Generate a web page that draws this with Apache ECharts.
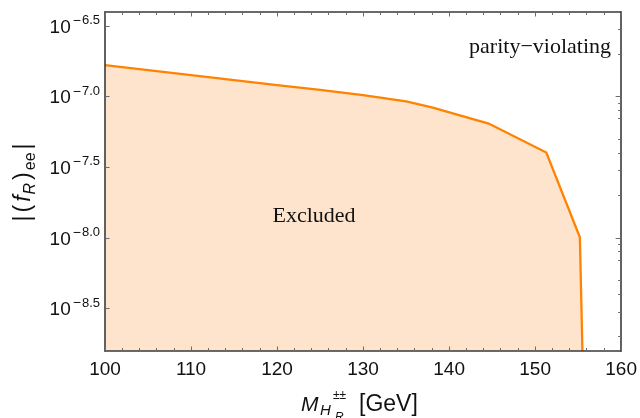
<!DOCTYPE html>
<html>
<head>
<meta charset="utf-8">
<script src="https://cdn.jsdelivr.net/npm/echarts@6/dist/echarts.min.js"></script>
<style>
  html, body { margin: 0; padding: 0; background: #fff; }
  #chart { width: 640px; height: 418px; }
</style>
</head>
<body>
<div id="chart"></div>
<script>
// Exclusion boundary: doubly-charged Higgs mass vs log10 of the coupling |(f_R)_ee|
const massGeV = [100, 105, 110, 115, 120, 125, 130, 135, 138, 144.6, 151.3, 155.2, 155.5];
const logCoupling = [-6.776, -6.812, -6.847, -6.882, -6.918, -6.952, -6.988, -7.032, -7.075, -7.19, -7.395, -7.995, -8.8];

// Axis ranges and tick positions (log10 units on y)
const xMin = 100, xMax = 160, xStep = 10;
const yMin = -8.8, yMax = -6.4;
const yLabelExps = [-8.5, -8.0, -7.5, -7.0, -6.5];
const decadeExps = [-8, -7];
const minorMantissas = [2, 3, 4, 5, 7, 8, 9];

const minorLogTicks = [];
[-9, -8, -7].forEach(d => {
  minorMantissas.forEach(m => {
    const v = d + Math.log10(m);
    if (v > yMin && v < yMax) minorLogTicks.push(v);
  });
});

const seriesData = massGeV.map((m, i) => [m, logCoupling[i]]);

const frameColor = '#3a3a3a';
const tickColor = '#6a6a6a';
const lineColor = '#ff8200';
const fillColor = '#fee4cc';
const sans = 'Liberation Sans, Arial, sans-serif';
const serif = 'Liberation Serif, Times New Roman, serif';

const chart = echarts.init(document.getElementById('chart'), null, { renderer: 'canvas' });

function frameX(pos, labels) {
  return {
    type: 'value', position: pos, min: xMin, max: xMax, interval: xStep, z: 5,
    axisLine: { show: true, onZero: false, lineStyle: { color: frameColor, width: 1.6 } },
    axisTick: { show: true, inside: true, length: 4.5, lineStyle: { color: tickColor, width: 1 } },
    minorTick: { show: true, splitNumber: 5, length: 3, lineStyle: { color: tickColor, width: 1 } },
    axisLabel: labels ? { show: true, margin: 9, color: '#111', fontSize: 19, fontFamily: sans } : { show: false },
    splitLine: { show: false }
  };
}

const option = {
  animation: false,
  backgroundColor: '#fff',
  grid: { left: 105, right: 14, top: 12, bottom: 67, containLabel: false },
  xAxis: [frameX('bottom', true), frameX('top', false)],
  yAxis: [
    {
      type: 'value', position: 'left', min: yMin, max: yMax, z: 5,
      axisLine: { show: true, onZero: false, lineStyle: { color: frameColor, width: 1.6 } },
      axisTick: { show: true, inside: true, length: 4.5, customValues: yLabelExps, lineStyle: { color: tickColor, width: 1 } },
      axisLabel: {
        show: true, margin: 5, customValues: yLabelExps,
        formatter: v => '{b|10}{m|\u2212}{s|' + Math.abs(v).toFixed(1) + '}',
        rich: {
          b: { fontSize: 19, lineHeight: 24, padding: [3, 0, 0, 0], color: '#111', fontFamily: sans },
          m: { fontSize: 14, lineHeight: 14, padding: [0, 1, 0, 2], verticalAlign: 'top', color: '#111', fontFamily: sans },
          s: { fontSize: 13, lineHeight: 14, verticalAlign: 'top', color: '#111', fontFamily: sans }
        }
      },
      splitLine: { show: false }
    },
    {
      type: 'value', position: 'right', min: yMin, max: yMax, z: 5,
      axisLine: { show: true, onZero: false, lineStyle: { color: frameColor, width: 1.6 } },
      axisTick: { show: true, inside: true, length: 5.5, customValues: decadeExps, lineStyle: { color: tickColor, width: 1 } },
      axisLabel: { show: false },
      splitLine: { show: false }
    },
    {
      type: 'value', position: 'right', min: yMin, max: yMax, z: 5,
      axisLine: { show: false },
      axisTick: { show: true, inside: true, length: 3, customValues: minorLogTicks, lineStyle: { color: tickColor, width: 1 } },
      axisLabel: { show: false },
      splitLine: { show: false }
    }
  ],
  series: [
    {
      type: 'line',
      xAxisIndex: 0, yAxisIndex: 0,
      data: seriesData,
      symbol: 'none',
      clip: true,
      lineStyle: { color: lineColor, width: 2.3, join: 'miter' },
      areaStyle: { color: fillColor, opacity: 1, origin: 'start' },
      z: 1
    }
  ],
  graphic: [
    {
      type: 'text', x: 24, y: 182, rotation: Math.PI / 2,
      style: {
        text: '{n|\u007c}{n|(}{i|f}{si|R}{n|)}{sb|ee}{n|\u007c}',
        align: 'center', verticalAlign: 'middle',
        rich: {
          n: { fontSize: 23, lineHeight: 30, padding: [0, 2, 0, 1], fill: '#111', fontFamily: sans },
          i: { fontSize: 23, lineHeight: 30, fontStyle: 'italic', padding: [0, 1, 0, 1], fill: '#111', fontFamily: sans },
          si: { fontSize: 16, lineHeight: 17, fontStyle: 'italic', verticalAlign: 'bottom', padding: [0, 2, 0, 0], fill: '#111', fontFamily: sans },
          sb: { fontSize: 16, lineHeight: 17, verticalAlign: 'bottom', padding: [0, 2, 0, 0], fill: '#111', fontFamily: sans }
        }
      }
    },
    {
      type: 'group',
      children: [
        { type: 'text', x: 301, y: 405, style: { text: 'M', fontSize: 21, fontStyle: 'italic', fill: '#111', fontFamily: sans, verticalAlign: 'middle' } },
        { type: 'text', x: 320, y: 411, style: { text: 'H', fontSize: 15, fontStyle: 'italic', fill: '#111', fontFamily: sans, verticalAlign: 'middle' } },
        { type: 'text', x: 333, y: 396, style: { text: '\u00b1\u00b1', fontSize: 12, fill: '#111', fontFamily: sans, verticalAlign: 'middle' } },
        { type: 'text', x: 335, y: 418, style: { text: 'R', fontSize: 12, fontStyle: 'italic', fill: '#111', fontFamily: sans, verticalAlign: 'middle' } },
        { type: 'text', x: 359, y: 405, style: { text: '[GeV]', fontSize: 23, fill: '#111', fontFamily: sans, verticalAlign: 'middle' } }
      ]
    },
    {
      type: 'text', x: 611, y: 47,
      style: { text: 'parity\u2212violating', fontSize: 22, fill: '#111', fontFamily: serif, align: 'right', verticalAlign: 'middle' },
      z: 10
    },
    {
      type: 'text', x: 314, y: 216,
      style: { text: 'Excluded', fontSize: 22, fill: '#111', fontFamily: serif, align: 'center', verticalAlign: 'middle' },
      z: 10
    }
  ]
};

chart.setOption(option);
</script>
</body>
</html>
